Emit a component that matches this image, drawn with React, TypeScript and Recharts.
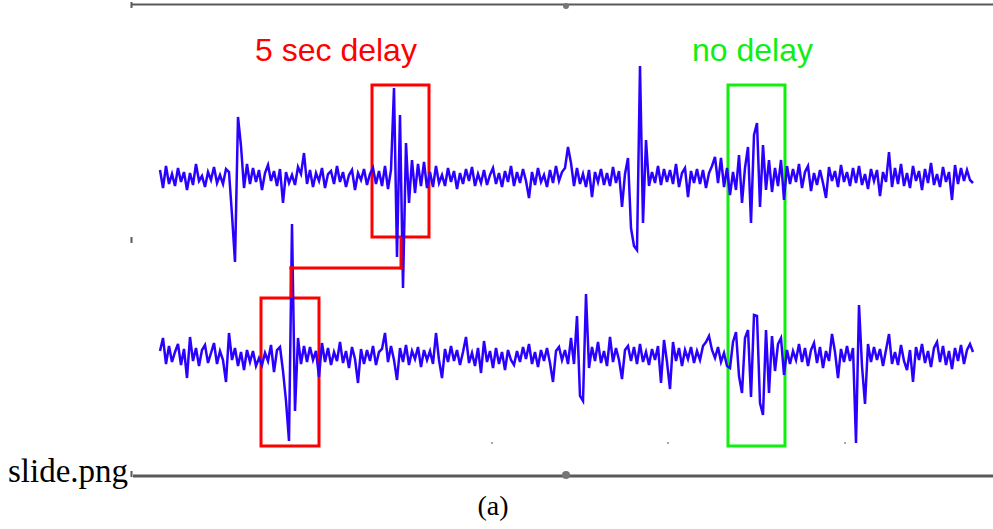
import {
  ComposedChart,
  Line,
  ReferenceArea,
  ReferenceDot,
  ReferenceLine,
  XAxis,
  YAxis,
} from "recharts";

// Two recorded channels, one sample every ~0.14 s, amplitude in µV
// relative to each channel's resting level (positive = up).
const upperChannel = [
  8, -10, 12, -6, 4, -8, 10, -4, 6, -12,
  5, -7, 14, -3, 2, -9, 6, -2, 11, -5,
  3, -6, 9, 6, -37, -84, 61, 32, -10, 14,
  -6, 10, -4, 8, -12, 5, 13, -3, 7, -8,
  9, -25, 6, -5, 3, -7, 11, 4, 25, -6,
  8, -9, 5, -3, 10, -10, 4, 7, -6, 12,
  -4, 6, -9, 3, 8, -12, 5, -2, 9, -7,
  4, 10, -6, 7, -8, 12, -11, 8, 90, -79,
  63, -110, 35, -25, 18, -15, 14, -8, 16, -10,
  6, -9, 12, -5, 3, -8, 10, -4, 7, -11,
  5, -6, 9, -3, 11, -8, 4, -5, 8, -7,
  3, 10, -6, 5, -9, 7, -4, 12, -8, 6,
  -5, 9, -3, -20, 6, -7, 10, -4, 3, -9,
  8, -5, 12, -3, 6, 10, 31, 15, -8, 10,
  -6, 4, -9, 8, -19, 6, -4, 9, -7, 5,
  -8, 11, -5, 7, -29, 4, 20, -50, -68, -72,
  112, -45, 38, -8, 6, -5, 12, -7, 9, -4,
  8, -6, 14, -9, 5, 10, -19, 7, -5, 9,
  -6, 8, -10, 5, 12, 21, -5, 20, -9, 10,
  -17, 6, -12, 23, -25, 10, 31, -45, 43, 55,
  -29, 33, -12, 18, -14, 10, -8, 18, -22, 12,
  -6, 9, -4, 14, -10, 6, 12, -13, 5, -7,
  8, -5, -20, 11, -3, 7, -9, 13, -4, 6,
  -8, 10, -5, 12, -7, 4, -11, 9, -3, 8,
  -18, 6, -4, 26, -9, 10, -6, 14, -8, 5,
  -10, 12, -3, 7, -12, 9, -5, 15, -7, 4,
  -9, 11, -4, 6, -22, 13, -6, 10, -3, 8,
  -2, -5,
];

const lowerChannel = [
  5, 18, -8, 10, -6, 4, 12, -9, 7, -22,
  19, -5, 8, -10, 6, 11, -7, 3, 13, -8,
  5, -4, -26, 23, -4, 8, -10, 4, -14, 6,
  -6, 5, -10, -2, -9, 3, -5, 11, -16, 6,
  9, -15, -45, -85, 132, -55, 18, -8, 10, -6,
  9, -4, 5, -21, 13, -6, 8, -9, 4, -5,
  14, -7, 5, -12, 9, -3, -27, 7, -8, 6,
  -5, 10, -9, 4, 7, 23, -6, 10, -4, -24,
  8, -6, 11, -9, 5, -3, 9, -11, 6, -4,
  5, -8, 23, -4, -22, 7, -6, 10, -5, 6,
  -9, 4, 19, -7, 3, -10, 8, -17, 15, -6,
  5, -12, 8, -8, 4, -14, 6, -4, -9, 5,
  -6, 9, -3, 12, -8, 4, -11, 6, -5, 8,
  -7, -26, 5, 9, -4, 6, -8, 18, -8, 40,
  -40, -45, 62, -12, 9, -5, 14, -7, 5, -10,
  19, -6, 8, -4, -23, 6, 10, -5, 9, -8,
  12, -6, 4, -9, 7, -4, 10, -27, 16, -6,
  -33, 14, -5, 8, -10, 6, -3, 9, -7, 5,
  -4, 10, 14, 20, 6, -2, 9, -6, 3, -10,
  -12, 14, 24, -20, -37, 18, 26, -41, 41, 40,
  -47, -59, 26, -37, 20, -15, 12, 18, -19, 6,
  -8, 5, -4, 12, -6, 8, -10, 6, 13, -7,
  9, -12, 5, -5, 22, 4, -22, 7, -6, 10,
  -5, 8, -87, 51, -10, -48, 12, -6, 9, -4,
  7, -10, 6, 22, -8, 4, -9, 11, -5, -14,
  6, -26, 9, -4, 12, -7, 5, -11, 8, 14,
  -6, 10, -9, 5, -13, 8, -5, 11, -8, 6,
  12, 4,
];

const WIDTH = 993;
const HEIGHT = 529;
const TRACE = "#2b00ff";
const RED = "#ff0000";
const GREEN = "#11ee11";
const FRAME = "#5a5a5a";

const rows = upperChannel.map((value, sample) => ({
  sample,
  upper: value,
  lower: lowerChannel[sample],
}));

// Annotations are laid out in page pixels and mapped onto the upper
// channel's axes (sample index across, µV up).
const sx = (px: number) => (px - 160) / 3;
const sy = (py: number) => 178 - py;

const redBoxes = [
  { x1: 372, x2: 429, y1: 85, y2: 237 },
  { x1: 261, x2: 319, y1: 298, y2: 446 },
];
const connector = [
  [{ x: 401, y: 237 }, { x: 401, y: 269.5 }],
  [{ x: 402.5, y: 268 }, { x: 289.5, y: 268 }],
  [{ x: 291, y: 266.5 }, { x: 291, y: 298 }],
];

function pageSegment(points: { x: number; y: number }[]) {
  return points.map((p) => ({ x: sx(p.x), y: sy(p.y) }));
}

export default function App() {
  return (
    <div
      style={{
        position: "absolute",
        left: 0,
        top: 0,
        width: WIDTH,
        height: HEIGHT,
        background: "#fff",
      }}
    >
      <ComposedChart
        width={WIDTH}
        height={HEIGHT}
        data={rows}
        margin={{ top: 0, right: 0, bottom: 0, left: 0 }}
      >
        <XAxis
          xAxisId="trace"
          dataKey="sample"
          type="number"
          domain={[-160 / 3, 833 / 3]}
          allowDataOverflow
          hide
        />
        <YAxis
          yAxisId="upper"
          type="number"
          domain={[-351, 178]}
          allowDataOverflow
          hide
        />
        <YAxis
          yAxisId="lower"
          type="number"
          domain={[-173, 356]}
          allowDataOverflow
          hide
        />

        {/* slide frame */}
        <ReferenceLine
          xAxisId="trace"
          yAxisId="upper"
          segment={pageSegment([{ x: 131, y: 4.5 }, { x: WIDTH, y: 4.5 }])}
          stroke={FRAME}
          strokeWidth={2}
          ifOverflow="visible"
        />
        <ReferenceLine
          xAxisId="trace"
          yAxisId="upper"
          segment={pageSegment([{ x: 133, y: 476 }, { x: WIDTH, y: 476 }])}
          stroke={FRAME}
          strokeWidth={3}
          ifOverflow="visible"
        />
        {[5, 240, 474].map((y) => (
          <ReferenceLine
            key={y}
            xAxisId="trace"
            yAxisId="upper"
            segment={pageSegment([
              { x: 131.5, y: y - 3 },
              { x: 131.5, y: y + 3 },
            ])}
            stroke={FRAME}
            strokeWidth={2}
            ifOverflow="visible"
          />
        ))}
        <ReferenceDot
          xAxisId="trace"
          yAxisId="upper"
          x={sx(566)}
          y={sy(6)}
          r={3}
          fill="#777"
          stroke="none"
          ifOverflow="visible"
        />
        <ReferenceDot
          xAxisId="trace"
          yAxisId="upper"
          x={sx(566)}
          y={sy(475)}
          r={4}
          fill="#777"
          stroke="none"
          ifOverflow="visible"
        />
        {[492, 668, 845].map((x) => (
          <ReferenceDot
            key={x}
            xAxisId="trace"
            yAxisId="upper"
            x={sx(x)}
            y={sy(443)}
            r={1}
            fill="#888"
            stroke="none"
            ifOverflow="visible"
          />
        ))}

        <Line
          xAxisId="trace"
          yAxisId="upper"
          dataKey="upper"
          type="linear"
          stroke={TRACE}
          strokeWidth={2.5}
          dot={false}
          activeDot={false}
          isAnimationActive={false}
        />
        <Line
          xAxisId="trace"
          yAxisId="lower"
          dataKey="lower"
          type="linear"
          stroke={TRACE}
          strokeWidth={2.5}
          dot={false}
          activeDot={false}
          isAnimationActive={false}
        />

        {redBoxes.map((box) => (
          <ReferenceArea
            key={box.y1}
            xAxisId="trace"
            yAxisId="upper"
            x1={sx(box.x1)}
            x2={sx(box.x2)}
            y1={sy(box.y1)}
            y2={sy(box.y2)}
            fill="none"
            stroke={RED}
            strokeWidth={3}
            ifOverflow="visible"
          />
        ))}
        {connector.map((segment, i) => (
          <ReferenceLine
            key={i}
            xAxisId="trace"
            yAxisId="upper"
            segment={pageSegment(segment)}
            stroke={RED}
            strokeWidth={3}
            ifOverflow="visible"
          />
        ))}
        <ReferenceArea
          xAxisId="trace"
          yAxisId="upper"
          x1={sx(728)}
          x2={sx(785)}
          y1={sy(85)}
          y2={sy(446)}
          fill="none"
          stroke={GREEN}
          strokeWidth={3}
          ifOverflow="visible"
        />
      </ComposedChart>

      <svg
        width={WIDTH}
        height={HEIGHT}
        style={{ position: "absolute", left: 0, top: 0, pointerEvents: "none" }}
      >
        <text
          x={255}
          y={61}
          fill={RED}
          fontFamily="'Liberation Sans', Arial, sans-serif"
          fontSize={32}
        >
          5 sec delay
        </text>
        <text
          x={692}
          y={61}
          fill={GREEN}
          fontFamily="'Liberation Sans', Arial, sans-serif"
          fontSize={32}
        >
          no delay
        </text>
        <text
          x={8}
          y={482}
          fill="#000"
          fontFamily="'Liberation Serif', 'Times New Roman', serif"
          fontSize={33}
        >
          slide.png
        </text>
        <text
          x={493}
          y={515}
          fill="#000"
          textAnchor="middle"
          fontFamily="'Liberation Serif', 'Times New Roman', serif"
          fontSize={28}
        >
          (a)
        </text>
      </svg>
    </div>
  );
}
